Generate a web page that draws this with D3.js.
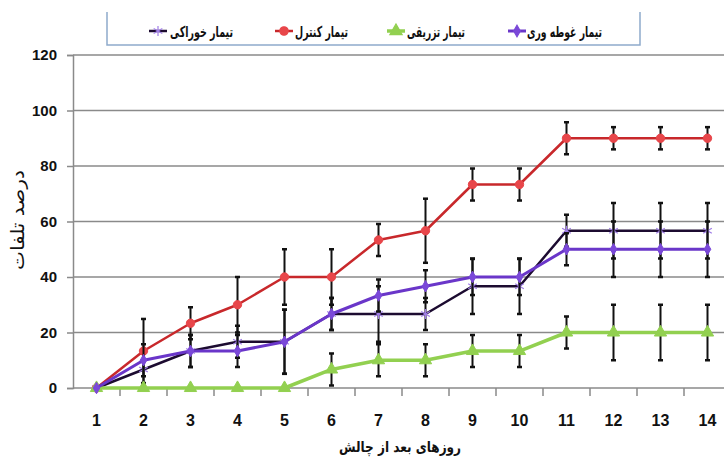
<!DOCTYPE html>
<html>
<head>
<meta charset="utf-8">
<script src="https://cdn.jsdelivr.net/npm/d3@7"></script>
<style>
  body { margin: 0; background: #fff; }
  svg { display: block; }
</style>
</head>
<body>
<svg id="chart"></svg>
<script>
// days after challenge
const days = [1, 2, 3, 4, 5, 6, 7, 8, 9, 10, 11, 12, 13, 14];
const yTicks = [0, 20, 40, 60, 80, 100, 120];

// mortality % per treatment + error bars
const oral = [0, 6.67, 13.33, 16.67, 16.67, 26.67, 26.67, 26.67, 36.67, 36.67, 56.67, 56.67, 56.67, 56.67];
const oralErr = [0, 5.77, 5.77, 5.77, 11.55, 5.77, 10, 5.77, 10, 10, 5.77, 10, 10, 10];
const control = [0, 13.33, 23.33, 30, 40, 40, 53.33, 56.67, 73.33, 73.33, 90, 90, 90, 90];
const controlErr = [0, 11.55, 5.77, 10, 10, 10, 5.77, 11.55, 5.77, 5.77, 5.77, 4, 4, 4];
const injection = [0, 0, 0, 0, 0, 6.67, 10, 10, 13.33, 13.33, 20, 20, 20, 20];
const injectionErr = [0, 0, 0, 0, 0, 5.77, 5.77, 5.77, 5.77, 5.77, 5.77, 10, 10, 10];
const immersion = [0, 10, 13.33, 13.33, 16.67, 26.67, 33.33, 36.67, 40, 40, 50, 50, 50, 50];
const immersionErr = [0, 5.77, 5.77, 5.77, 11.55, 5.77, 5.77, 5.77, 6.5, 6.5, 5.77, 10, 10, 10];

const seriesNames = ["تیمار خوراکی", "تیمار کنترل", "تیمار تزریقی", "تیمار غوطه وری"];

const W = 724, H = 459;
const plotLeft = 73, plotTop = 55, plotBottom = 388, plotRight = 731;

const svg = d3.select('#chart')
    .attr('width', W)
    .attr('height', H)
    .style('font-family', 'Liberation Sans, Arial, sans-serif');

const xBand = d3.scaleBand()
    .domain(days)
    .range([plotLeft, plotRight])
    .padding(0);
const xc = d => xBand(d) + xBand.bandwidth() / 2;

const y = d3.scaleLinear()
    .domain([0, 120])
    .range([plotBottom, plotTop]);

//horizontal grid lines
svg.append('g')
    .selectAll('line')
    .data(yTicks.filter(t => t > 0))
    .enter()
    .append('line')
    .attr('x1', plotLeft)
    .attr('x2', W)
    .attr('y1', d => y(d))
    .attr('y2', d => y(d))
    .attr('stroke', '#8a8a8a')
    .attr('stroke-width', 1.5);

// y axis
const yAxis = svg.append('g')
    .attr('transform', `translate(${plotLeft},0)`)
    .call(d3.axisLeft(y).tickValues(yTicks).tickSize(6).tickPadding(10));
yAxis.select('.domain').attr('stroke', '#8a8a8a').attr('stroke-width', 1.5);
yAxis.selectAll('.tick line').attr('stroke', '#8a8a8a').attr('stroke-width', 1.5);
yAxis.selectAll('text')
    .attr('font-size', 15)
    .attr('font-weight', 'bold')
    .attr('font-family', 'Liberation Sans, Arial, sans-serif')
    .attr('fill', '#111');

// x axis: line + ticks between categories
const xAxis = svg.append('g');
xAxis.append('line')
    .attr('x1', plotLeft).attr('x2', W)
    .attr('y1', plotBottom).attr('y2', plotBottom)
    .attr('stroke', '#8a8a8a').attr('stroke-width', 1.5);
xAxis.selectAll('.xt')
    .data(days.slice(1))
    .enter()
    .append('line')
    .attr('x1', d => xBand(d)).attr('x2', d => xBand(d))
    .attr('y1', plotBottom).attr('y2', plotBottom + 8)
    .attr('stroke', '#8a8a8a').attr('stroke-width', 1.5);
xAxis.selectAll('.xl')
    .data(days)
    .enter()
    .append('text')
    .attr('x', d => xc(d))
    .attr('y', 426)
    .attr('text-anchor', 'middle')
    .attr('font-size', 16)
    .attr('font-weight', 'bold')
    .attr('fill', '#111')
    .text(d => d);

// axis titles
svg.append('text')
    .attr('x', 400)
    .attr('y', 452)
    .attr('text-anchor', 'middle')
    .attr('font-family', 'DejaVu Sans, sans-serif')
    .attr('font-size', 15)
    .attr('font-weight', 'bold')
    .attr('fill', '#111')
    .attr('textLength', 122)
    .attr('lengthAdjust', 'spacingAndGlyphs')
    .text('روزهای بعد از چالش');

svg.append('text')
    .attr('transform', 'translate(24,220) rotate(-90)')
    .attr('text-anchor', 'middle')
    .attr('font-family', 'DejaVu Sans, sans-serif')
    .attr('font-size', 18)
    .attr('fill', '#111')
    .attr('textLength', 100)
    .attr('lengthAdjust', 'spacingAndGlyphs')
    .text('درصد تلفات');

const series = [
    {name: seriesNames[0], vals: oral, err: oralErr, line: '#1c0b30', lw: 2.5, mark: d3.symbolAsterisk, msize: 70, mfill: 'none', mstroke: '#a07ee6'},
    {name: seriesNames[1], vals: control, err: controlErr, line: '#c8282b', lw: 2.5, mark: d3.symbolCircle, msize: 55, mfill: '#e8464a', mstroke: '#e8464a'},
    {name: seriesNames[2], vals: injection, err: injectionErr, line: '#92d050', lw: 3.5, mark: d3.symbolTriangle, msize: 65, mfill: '#92d050', mstroke: '#92d050'},
    {name: seriesNames[3], vals: immersion, err: immersionErr, line: '#6a36c9', lw: 3, mark: d3.symbolDiamond, msize: 38, mfill: '#7a48d8', mstroke: '#7a48d8'}
];

// where each legend entry sits and how wide its label is
const legendMarkX = [158, 284, 396, 517];
const legendTextEnd = [233, 348, 465, 602];
const legendTextLen = [63, 53, 58, 75];

const line = d3.line()
    .x((v, i) => xc(days[i]))
    .y(v => y(v));

series.forEach(function(s) {
    const g = svg.append('g');
    const pts = s.vals.map((v, i) => ({d: days[i], v: v, e: s.err[i]}));

    // error bars
    const eb = g.selectAll('.eb')
        .data(pts.filter(p => p.e > 0))
        .enter()
        .append('g');
    eb.append('line')
        .attr('x1', p => xc(p.d)).attr('x2', p => xc(p.d))
        .attr('y1', p => y(p.v - p.e)).attr('y2', p => y(p.v + p.e))
        .attr('stroke', '#111').attr('stroke-width', 2);
    [1, -1].forEach(function(sg) {
        eb.append('line')
            .attr('x1', p => xc(p.d) - 2.5).attr('x2', p => xc(p.d) + 2.5)
            .attr('y1', p => y(p.v + sg * p.e)).attr('y2', p => y(p.v + sg * p.e))
            .attr('stroke', '#111').attr('stroke-width', 2.5);
    });

    g.append('path')
        .attr('d', line(s.vals))
        .attr('fill', 'none')
        .attr('stroke', s.line)
        .attr('stroke-width', s.lw)
        .attr('stroke-linejoin', 'round');

    g.selectAll('.m')
        .data(pts)
        .enter()
        .append('path')
        .attr('d', d3.symbol().type(s.mark).size(s.msize))
        .attr('transform', p => `translate(${xc(p.d)},${y(p.v)})`)
        .attr('fill', s.mfill)
        .attr('stroke', s.mstroke)
        .attr('stroke-width', s.mfill === 'none' ? 1.3 : 1);
});

// legend box (top edge is off the picture)
const lg = svg.append('g');
lg.append('path')
    .attr('d', 'M107,12 V45 H640 V12')
    .attr('fill', 'none')
    .attr('stroke', '#8eaacc')
    .attr('stroke-width', 1.5);

series.forEach(function(s, i) {
    const mx = legendMarkX[i];
    lg.append('line')
        .attr('x1', mx - 9).attr('x2', mx + 9)
        .attr('y1', 31).attr('y2', 31)
        .attr('stroke', s.line).attr('stroke-width', s.lw);
    lg.append('path')
        .attr('d', d3.symbol().type(s.mark).size(s.msize))
        .attr('transform', `translate(${mx},31)`)
        .attr('fill', s.mfill)
        .attr('stroke', s.mstroke)
        .attr('stroke-width', 1.2);
    lg.append('text')
        .attr('x', legendTextEnd[i])
        .attr('y', 37)
        .attr('text-anchor', 'end')
        .attr('font-family', 'DejaVu Sans, sans-serif')
        .attr('font-size', 15)
        .attr('font-weight', 'bold')
        .attr('fill', '#111')
        .attr('textLength', legendTextLen[i])
        .attr('lengthAdjust', 'spacingAndGlyphs')
        .text(s.name);
});
</script>
</body>
</html>
